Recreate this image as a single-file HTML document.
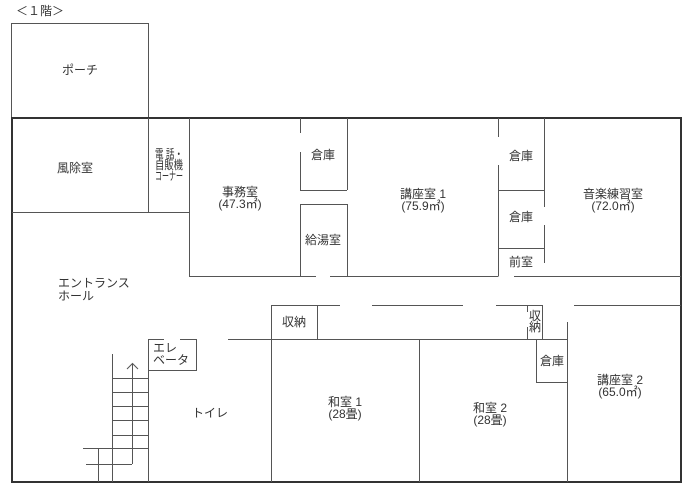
<!DOCTYPE html>
<html><head><meta charset="utf-8"><style>
html,body{margin:0;padding:0;background:#fff;width:690px;height:491px;overflow:hidden}
svg{display:block}
text{font-family:"Liberation Sans","Noto Sans CJK JP",sans-serif;fill:#333;font-size:12px}
</style></head><body>
<svg width="690" height="491" viewBox="0 0 690 491" xmlns="http://www.w3.org/2000/svg">
<g stroke="#555" stroke-width="1" fill="none">
<rect x="11.5" y="23.5" width="137" height="95"/>
<rect x="12" y="118" width="669" height="364" stroke-width="2" stroke="#333"/>
<line x1="12" y1="212.5" x2="189" y2="212.5"/>
<line x1="148.5" y1="118" x2="148.5" y2="212"/>
<line x1="189.5" y1="118" x2="189.5" y2="276.5"/>
<line x1="189" y1="276.5" x2="316" y2="276.5"/>
<line x1="330" y1="276.5" x2="498" y2="276.5"/>
<line x1="300.5" y1="118" x2="300.5" y2="133"/>
<line x1="300.5" y1="152" x2="300.5" y2="190"/>
<line x1="300" y1="190.5" x2="347" y2="190.5"/>
<line x1="347.5" y1="118" x2="347.5" y2="190"/>
<polyline points="300.5,276 300.5,204.5 347.5,204.5 347.5,276"/>
<line x1="498.5" y1="118" x2="498.5" y2="137"/>
<line x1="498.5" y1="165" x2="498.5" y2="276.5"/>
<line x1="544.5" y1="118" x2="544.5" y2="207"/>
<line x1="544.5" y1="225" x2="544.5" y2="263"/>
<line x1="498" y1="190.5" x2="544" y2="190.5"/>
<line x1="498" y1="248.5" x2="544" y2="248.5"/>
<line x1="514" y1="276.5" x2="681" y2="276.5"/>
<line x1="271" y1="305.5" x2="340" y2="305.5"/>
<line x1="372" y1="305.5" x2="463" y2="305.5"/>
<line x1="496" y1="305.5" x2="542" y2="305.5"/>
<line x1="574" y1="305.5" x2="681" y2="305.5"/>
<line x1="271.5" y1="305" x2="271.5" y2="482"/>
<line x1="317.5" y1="305" x2="317.5" y2="339"/>
<line x1="228" y1="339.5" x2="567" y2="339.5"/>
<line x1="527.5" y1="305" x2="527.5" y2="312"/>
<line x1="527.5" y1="327" x2="527.5" y2="339"/>
<line x1="542.5" y1="305" x2="542.5" y2="339"/>
<polyline points="536.5,339 536.5,382.5 567,382.5"/>
<line x1="567.5" y1="322" x2="567.5" y2="482"/>
<line x1="419.5" y1="339" x2="419.5" y2="482"/>
<line x1="148" y1="339.5" x2="164" y2="339.5"/>
<line x1="180" y1="339.5" x2="196" y2="339.5"/>
<polyline points="196.5,339 196.5,370.5 148,370.5"/>
<line x1="148.5" y1="339" x2="148.5" y2="482"/>
<line x1="112.5" y1="354" x2="112.5" y2="482"/>
<line x1="112" y1="378.5" x2="148" y2="378.5"/>
<line x1="112" y1="392.5" x2="148" y2="392.5"/>
<line x1="112" y1="406.5" x2="148" y2="406.5"/>
<line x1="112" y1="420.5" x2="148" y2="420.5"/>
<line x1="112" y1="435.5" x2="148" y2="435.5"/>
<line x1="83" y1="448.5" x2="148" y2="448.5"/>
<line x1="86" y1="464.5" x2="132" y2="464.5"/>
<line x1="98.5" y1="448" x2="98.5" y2="482"/>
<line x1="132.5" y1="364" x2="132.5" y2="464"/>
<polyline points="127,369 132.5,363.5 138,369"/>
</g>
<text x="16" y="15" font-size="13">＜１階＞</text>
<text x="80" y="74" text-anchor="middle">ポーチ</text>
<text x="75" y="172" text-anchor="middle">風除室</text>
<text x="155" y="158" font-size="8" textLength="28" lengthAdjust="spacingAndGlyphs">電 話・</text>
<text x="155" y="169" font-size="8" textLength="28" lengthAdjust="spacingAndGlyphs">自販機</text>
<text x="155" y="180" font-size="7" textLength="28" lengthAdjust="spacingAndGlyphs">コーナー</text>
<text x="240" y="196" text-anchor="middle">事務室</text>
<text x="240" y="208" text-anchor="middle">(47.3㎡)</text>
<text x="323" y="159" text-anchor="middle" font-size="10">倉庫</text>
<text x="323" y="244" text-anchor="middle" font-size="10">給湯室</text>
<text x="423" y="198" text-anchor="middle">講座室 1</text>
<text x="423" y="210" text-anchor="middle">(75.9㎡)</text>
<text x="521" y="160" text-anchor="middle" font-size="10">倉庫</text>
<text x="521" y="221" text-anchor="middle" font-size="10">倉庫</text>
<text x="521" y="266" text-anchor="middle" font-size="10">前室</text>
<text x="613" y="198" text-anchor="middle">音楽練習室</text>
<text x="613" y="210" text-anchor="middle">(72.0㎡)</text>
<text x="58" y="287">エントランス</text>
<text x="58" y="300">ホール</text>
<text x="294" y="326" text-anchor="middle" font-size="10">収納</text>
<text x="535" y="320" text-anchor="middle" font-size="9">収</text>
<text x="535" y="331" text-anchor="middle" font-size="9">納</text>
<text x="552" y="365" text-anchor="middle" font-size="10">倉庫</text>
<text x="153" y="352" font-size="11">エレ</text>
<text x="153" y="364" font-size="11">ベータ</text>
<text x="210" y="417" text-anchor="middle">トイレ</text>
<text x="345" y="406" text-anchor="middle">和室 1</text>
<text x="345" y="418" text-anchor="middle">(28畳)</text>
<text x="490" y="412" text-anchor="middle">和室 2</text>
<text x="490" y="424" text-anchor="middle">(28畳)</text>
<text x="620" y="384" text-anchor="middle">講座室 2</text>
<text x="620" y="396" text-anchor="middle">(65.0㎡)</text>
</svg>
</body></html>
